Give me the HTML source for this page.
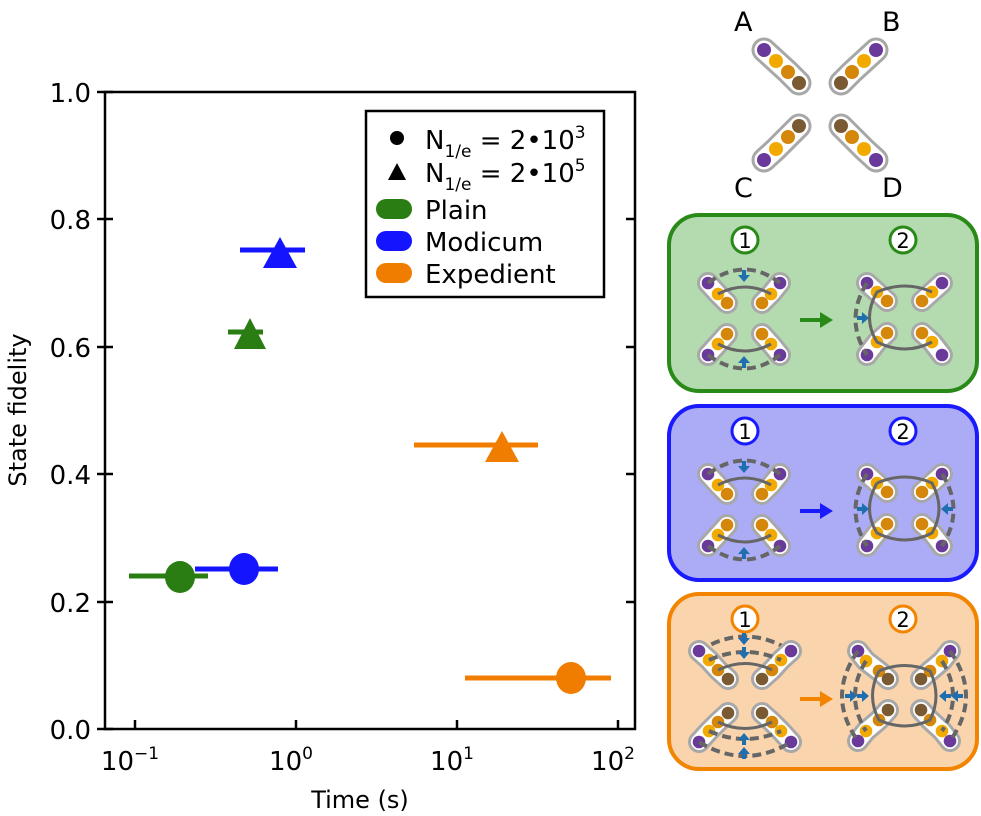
<!DOCTYPE html><html><head><meta charset="utf-8"><style>body{margin:0;background:#fff}svg{display:block}text{font-family:"DejaVu Sans","Liberation Sans",sans-serif}.t{font-size:26px}.l{font-size:26px}.s{font-size:17px}.a{font-size:24px}.b{font-size:27px}</style></head><body>
<svg id="s" width="981" height="816" viewBox="0 0 981 816" xmlns="http://www.w3.org/2000/svg">
<rect x="105" y="92" width="530" height="637" fill="none" stroke="#000" stroke-width="2.5"/>
<g stroke="#000" stroke-width="2.5">
<line x1="97" y1="729" x2="113" y2="729"/><line x1="97" y1="602" x2="113" y2="602"/><line x1="97" y1="474" x2="113" y2="474"/><line x1="97" y1="347" x2="113" y2="347"/><line x1="97" y1="219" x2="113" y2="219"/><line x1="97" y1="92" x2="113" y2="92"/>
<line x1="635" y1="602" x2="626" y2="602"/><line x1="635" y1="474" x2="626" y2="474"/><line x1="635" y1="347" x2="626" y2="347"/><line x1="635" y1="219" x2="626" y2="219"/>
<line x1="135" y1="729" x2="135" y2="720"/><line x1="296" y1="729" x2="296" y2="720"/><line x1="457" y1="729" x2="457" y2="720"/><line x1="618" y1="729" x2="618" y2="720"/>
</g>
<g text-anchor="end">
<text class="t" x="91" y="739">0.0</text><text class="t" x="91" y="612">0.2</text><text class="t" x="91" y="484">0.4</text><text class="t" x="91" y="357">0.6</text><text class="t" x="91" y="229">0.8</text><text class="t" x="91" y="102">1.0</text></g>
<g text-anchor="middle">
<text class="t" x="130" y="770">10<tspan class="s" dy="-11">−1</tspan></text>
<text class="t" x="291" y="770">10<tspan class="s" dy="-11">0</tspan></text>
<text class="t" x="452" y="770">10<tspan class="s" dy="-11">1</tspan></text>
<text class="t" x="613" y="770">10<tspan class="s" dy="-11">2</tspan></text>
<text class="a" x="360" y="808">Time (s)</text>
<text class="a" transform="translate(26,410) rotate(-90)">State fidelity</text></g>
<g stroke-width="5">
<line x1="129" y1="576" x2="208" y2="576" stroke="#2a7d12"/>
<line x1="195" y1="569" x2="278" y2="569" stroke="#1414ff"/>
<line x1="228" y1="332" x2="263" y2="332" stroke="#2a7d12"/>
<line x1="240" y1="250" x2="305" y2="250" stroke="#1414ff"/>
<line x1="414" y1="445" x2="538" y2="445" stroke="#f07d00"/>
<line x1="465" y1="678" x2="611" y2="678" stroke="#f07d00"/></g>
<ellipse cx="180" cy="577" rx="15" ry="16" fill="#2a7d12"/>
<ellipse cx="244" cy="569" rx="15" ry="16" fill="#1414ff"/>
<ellipse cx="571" cy="678" rx="15" ry="16" fill="#f07d00"/>
<polygon points="250,318 266,349 234,349" fill="#2a7d12"/>
<polygon points="280,237 297,268 263,268" fill="#1414ff"/>
<polygon points="502,431 519,462 485,462" fill="#f07d00"/>
<rect x="366" y="111" width="238" height="186" fill="#fff" stroke="#000" stroke-width="2.5"/>
<circle cx="397" cy="138" r="7"/><polygon points="397,163 406,180 388,180"/>
<rect x="376" y="199" width="36" height="20" rx="10" fill="#2a7d12"/>
<rect x="376" y="231" width="36" height="20" rx="10" fill="#1414ff"/>
<rect x="376" y="263" width="36" height="20" rx="10" fill="#f07d00"/>
<text class="l" x="425" y="149">N<tspan class="s" dy="8">1/e</tspan><tspan dy="-8"> = 2•10</tspan><tspan class="s" dy="-11">3</tspan></text>
<text class="l" x="425" y="182">N<tspan class="s" dy="8">1/e</tspan><tspan dy="-8"> = 2•10</tspan><tspan class="s" dy="-11">5</tspan></text>
<text class="l" x="425" y="219">Plain</text><text class="l" x="425" y="251">Modicum</text><text class="l" x="425" y="283">Expedient</text>
<text class="b" x="734" y="31">A</text><text class="b" x="882" y="31">B</text><text class="b" x="734" y="197">C</text><text class="b" x="882" y="197">D</text>
<rect x="669" y="215" width="308" height="176" rx="30" fill="#b4dab0" stroke="#2a8a18" stroke-width="4"/>
<rect x="669" y="406" width="308" height="174" rx="30" fill="#acacf6" stroke="#1a1aff" stroke-width="4"/>
<rect x="669" y="594" width="308" height="175" rx="30" fill="#f9d4ad" stroke="#f28400" stroke-width="4"/>
<g id="dyn"></g>
</svg>
<script>
var P='#6a3a9a',Y='#f2aa00',O='#d4870a',B='#7a5a32',NS='http://www.w3.org/2000/svg',g=document.getElementById('dyn');
function el(t,a){var e=document.createElementNS(NS,t);for(var k in a)e.setAttribute(k,a[k]);g.appendChild(e);return e;}
function frag(pts,cols,big){var d=pts.map(function(p){return p.join(',')}).join(' ');
el('polyline',{points:d,fill:'none',stroke:'#a8a8a8',"stroke-width":big?25:22,"stroke-linecap":"round","stroke-linejoin":"round"});
el('polyline',{points:d,fill:'none',stroke:'#fff',"stroke-width":big?19:16,"stroke-linecap":"round","stroke-linejoin":"round"});
pts.forEach(function(p,i){el('circle',{cx:p[0],cy:p[1],r:big?7:6.3,fill:cols[i]})});}
function ln(d,dash){var a={d:d,stroke:'#666',"stroke-width":dash?4:3,fill:'none'};if(dash)a["stroke-dasharray"]='9,5';el('path',a);}
frag([[764,50],[776,61],[788,72],[799,83]],[P,Y,O,B],1);
frag([[876,50],[864,61],[852,72],[841,83]],[P,Y,O,B],1);
frag([[764,160],[776,149],[788,137],[799,126]],[P,Y,O,B],1);
frag([[876,160],[864,149],[852,137],[841,126]],[P,Y,O,B],1);
function circ(x,y,n,c){el('circle',{cx:x,cy:y,r:13,fill:'#fff',stroke:c,"stroke-width":3});var t=el('text',{x:x,y:y+8,"text-anchor":"middle",style:"font-size:21px"});t.textContent=n;}
function barrow(x,y,dir){var s=6,p=dir=='d'?[[x-s,y-2],[x+s,y-2],[x,y+5]]:dir=='u'?[[x-s,y+2],[x+s,y+2],[x,y-5]]:dir=='r'?[[x-2,y-s],[x-2,y+s],[x+5,y]]:[[x+2,y-s],[x+2,y+s],[x-5,y]];
el('polygon',{points:p.map(function(q){return q.join(',')}).join(' '),fill:'#1f6fb0'});
if(dir=='d'||dir=='u')el('line',{x1:x,y1:y-(dir=='d'?7:-7),x2:x,y2:y,stroke:'#1f6fb0',"stroke-width":4});else el('line',{x1:x-(dir=='r'?7:-7),y1:y,x2:x,y2:y,stroke:'#1f6fb0',"stroke-width":4});}
function arrow(dy,col){el('line',{x1:800,y1:dy+320,x2:822,y2:dy+320,stroke:col,"stroke-width":4});
 el('polygon',{points:'820,'+(dy+312)+' 833,'+(dy+320)+' 820,'+(dy+328),fill:col});}
function panel(dy,col,both){
 circ(745,dy+240,'1',col);circ(903,dy+240,'2',col);
 var c=[P,Y,O];
 frag([[708,dy+283],[718,dy+294],[727,dy+303]],c);
 frag([[780,dy+283],[771,dy+294],[762,dy+303]],c);
 frag([[708,dy+355],[718,dy+344],[727,dy+334]],c);
 frag([[780,dy+355],[771,dy+344],[762,dy+334]],c);
 ln('M718,'+(dy+294)+' Q745,'+(dy+280)+' 771,'+(dy+294));
 ln('M718,'+(dy+344)+' Q745,'+(dy+358)+' 771,'+(dy+344));
 ln('M708,'+(dy+283)+' Q745,'+(dy+256)+' 780,'+(dy+283),1);
 ln('M708,'+(dy+355)+' Q745,'+(dy+382)+' 780,'+(dy+355),1);
 barrow(744,dy+277,'d');barrow(744,dy+361,'u');
 arrow(dy,col);
 frag([[867,dy+283],[877,dy+292],[887,dy+301]],c);
 frag([[942,dy+283],[932,dy+292],[922,dy+301]],c);
 frag([[867,dy+355],[877,dy+342],[887,dy+333]],c);
 frag([[942,dy+355],[932,dy+342],[922,dy+333]],c);
 if(both) ln('M877,'+(dy+292)+' Q905,'+(dy+280)+' 932,'+(dy+292)+' Q946,'+(dy+318)+' 932,'+(dy+342)+' Q905,'+(dy+356)+' 877,'+(dy+342)+' Q862,'+(dy+318)+' 877,'+(dy+292));
 else ln('M932,'+(dy+292)+' Q905,'+(dy+280)+' 877,'+(dy+292)+' Q862,'+(dy+318)+' 877,'+(dy+342)+' Q905,'+(dy+356)+' 932,'+(dy+342));
 ln('M867,'+(dy+283)+' Q844,'+(dy+319)+' 867,'+(dy+355),1);
 barrow(864,dy+318,'r');
 if(both){ln('M942,'+(dy+283)+' Q965,'+(dy+319)+' 942,'+(dy+355),1);barrow(946,dy+318,'l');}
}
panel(0,'#2a8a18',false);
panel(191,'#1a1aff',true);
(function(){var col='#f28400',c=[P,Y,O,B];
 circ(745,619,'1',col);circ(903,619,'2',col);
 ln('M699,651 Q745,622 791,651',1);
 frag([[699,651],[709,660],[718,670],[728,679]],c);
 frag([[791,651],[781,660],[772,670],[762,679]],c);
 frag([[699,742],[709,731],[718,722],[728,713]],c);
 frag([[791,742],[781,731],[772,722],[762,713]],c);
 ln('M709,660 Q745,644 781,660',1);ln('M718,670 Q745,657 772,670');
 ln('M709,731 Q745,747 781,731',1);ln('M718,722 Q745,735 772,722');
 ln('M699,742 Q745,770 791,742',1);
 barrow(744,640,'d');barrow(744,654,'d');barrow(744,738,'u');barrow(744,752,'u');
 arrow(379,col);
 frag([[858,651],[866,661],[879,671],[888,679]],c);
 frag([[950,651],[942,661],[930,671],[921,679]],c);
 frag([[858,741],[866,731],[879,720],[888,710]],c);
 frag([[950,741],[942,731],[930,720],[921,710]],c);
 ln('M879,671 Q905,660 930,671 Q942,696 930,720 Q905,732 879,720 Q866,696 879,671');
 ln('M866,661 Q844,696 866,731',1);ln('M858,651 Q826,696 858,741',1);
 ln('M942,661 Q964,696 942,731',1);ln('M950,651 Q982,696 950,741',1);
 barrow(852,696,'r');barrow(864,696,'r');barrow(956,696,'l');barrow(944,696,'l');
})();
</script>
</body></html>
